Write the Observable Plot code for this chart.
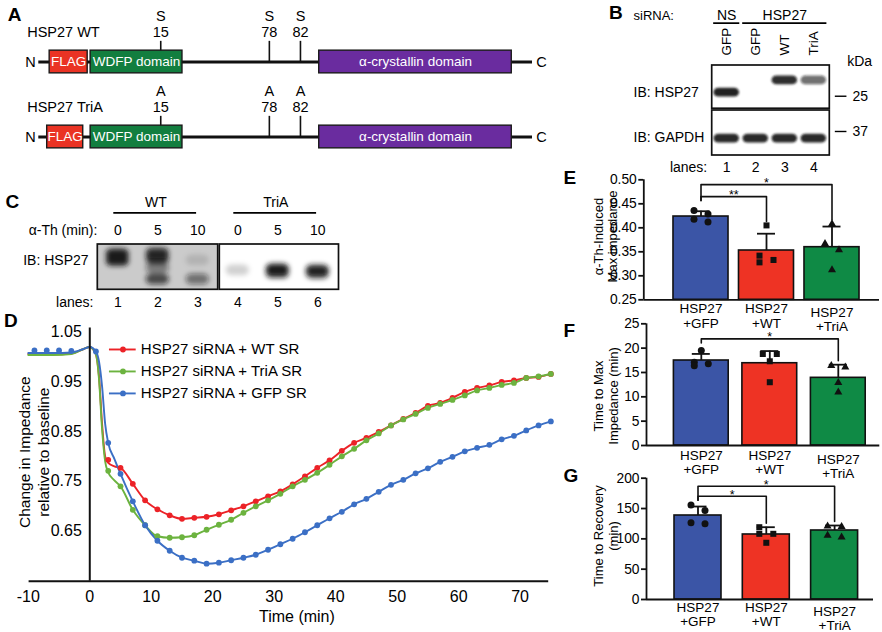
<!DOCTYPE html>
<html>
<head>
<meta charset="utf-8">
<script src="https://cdn.jsdelivr.net/npm/d3@7"></script>
<script src="https://cdn.jsdelivr.net/npm/@observablehq/plot@0.6"></script>
<style>
  html, body { margin: 0; padding: 0; background: #fff; }
  #fig { position: relative; width: 882px; height: 632px; overflow: hidden; background: #fff;
         font-family: "Liberation Sans", Arial, Helvetica, sans-serif; }
  #fig > div { position: absolute; }
  #fig svg { max-width: none !important; overflow: visible; display: block; }
</style>
</head>
<body>
<div id="fig"></div>
<script>
// ======================= DATA =======================
// Panel A – construct schematic (positions in schematic units along the protein, 0–100)
const constructs = ["HSP27 WT", "HSP27 TriA"];
const domainNames = ["FLAG", "WDFP domain", "α-crystallin domain"];
const domainStartWT = [2.2, 10.5, 56.8];
const domainEndWT = [9.9, 29.1, 95.8];
const domainStartTriA = [1.7, 10.5, 56.8];
const domainEndTriA = [9.0, 29.1, 95.8];
const siteNumbers = [15, 78, 82];
const siteSchematicPos = [24.7, 46.7, 53.0];
const residuesWT = ["S", "S", "S"];
const residuesTriA = ["A", "A", "A"];

// Panel B – knockdown / rescue blot
const bLanes = [1, 2, 3, 4];
const bLaneLabels = ["GFP", "GFP", "WT", "TriA"];
const bSiRNA = ["NS", "HSP27"];
const bSiRNAFirstLane = [1, 2];
const bSiRNALastLane = [1, 4];
const bHsp27Signal = [0.95, 0, 0.9, 0.6];
const bHsp27Migration = [0.62, 0.62, 0.34, 0.34];
const bGapdhSignal = [0.92, 0.92, 0.92, 0.92];
const bGapdhMigration = [0.64, 0.64, 0.64, 0.64];
const bMarkers = ["25", "37"];
const bMarkerMigration = [0.70, 0.478];

// Panel C – α-thrombin time course blot
const cLanes = [1, 2, 3, 4, 5, 6];
const cTimes = ["0", "5", "10", "0", "5", "10"];
const cConstructs = ["WT", "TriA"];
const cFirstLane = [1, 4];
const cLastLane = [3, 6];
const cBandLane = [1, 1, 2, 2, 2, 2, 3, 3, 4, 5, 5, 6, 6];
const cBandMigration = [0.22, 0.36, 0.2, 0.32, 0.52, 0.77, 0.35, 0.77, 0.57, 0.55, 0.63, 0.57, 0.64];
const cBandSignal = [0.95, 0.95, 0.85, 0.8, 0.45, 0.7, 0.12, 0.5, 0.18, 0.95, 0.8, 0.85, 0.75];

// Panel D – impedance time course
const dSeries = ["HSP27 siRNA + WT SR", "HSP27 siRNA + TriA SR", "HSP27 siRNA + GFP SR"];
const dColors = ["#ec2227", "#6cb33f", "#3b6fc5"];
const dTimeBaseline = [-9, -7, -5, -3, 1];
const dGfpBaseline = [1.012, 1.012, 1.012, 1.011, 1.010];
const dTimeAfter = [3,5,7,9,11,13,15,17,19,21,23,25,27,29,31,33,35,37,39,41,43,45,47,49,51,53,55,57,59,61,63,65,67,69,71,73,75];
const dWt = [0.793,0.777,0.745,0.712,0.694,0.682,0.675,0.677,0.679,0.684,0.692,0.700,0.710,0.720,0.730,0.744,0.760,0.777,0.792,0.811,0.827,0.837,0.849,0.862,0.875,0.887,0.901,0.907,0.917,0.929,0.937,0.942,0.949,0.952,0.957,0.959,0.965];
const dTriA = [0.771,0.740,0.693,0.662,0.640,0.637,0.638,0.642,0.653,0.663,0.673,0.687,0.700,0.712,0.725,0.740,0.753,0.767,0.783,0.800,0.815,0.832,0.846,0.862,0.874,0.885,0.897,0.905,0.913,0.922,0.932,0.937,0.943,0.947,0.957,0.960,0.965];
const dGfp = [0.827,0.765,0.710,0.662,0.631,0.611,0.597,0.591,0.585,0.587,0.592,0.597,0.603,0.613,0.624,0.635,0.648,0.662,0.676,0.689,0.704,0.715,0.729,0.743,0.753,0.766,0.776,0.789,0.799,0.810,0.817,0.823,0.834,0.841,0.852,0.862,0.870];
// smoothed fit curves, early part (baseline + drop)
const dFitTime = [-10, -6, -3, -1, 0, 1, 1.5, 2, 2.5, 3, 4];
const dWtFit = [1.005, 1.004, 1.006, 1.015, 1.019, 1.004, 0.960, 0.865, 0.800, 0.787, 0.780];
const dTriAFit = [1.003, 1.003, 1.005, 1.015, 1.019, 1.004, 0.955, 0.855, 0.790, 0.768, 0.752];
const dGfpFit = [1.007, 1.007, 1.008, 1.015, 1.019, 1.010, 0.990, 0.940, 0.865, 0.827, 0.795];
const dXTicks = [-10, 0, 10, 20, 30, 40, 50, 60, 70];
const dYTicks = [0.65, 0.75, 0.85, 0.95, 1.05];

// Panels E–G – bar charts
const barGroups = ["HSP27\n+GFP", "HSP27\n+WT", "HSP27\n+TriA"];
const barColors = ["#3b55a6", "#ee3324", "#0f8a45"];

const eMean = [0.4235, 0.3527, 0.3596];
const eSD = [0.011, 0.035, 0.043];
const eGFP = [0.436, 0.429, 0.412, 0.418];
const eWT = [0.405, 0.342, 0.328, 0.333];
const eTriA = [0.408, 0.367, 0.354, 0.3125];
const eSigLabel = ["*", "**"];
const eSigTo = [2, 1];
const eSigLevel = [0.490, 0.465];
const eTicks = [0.25, 0.30, 0.35, 0.40, 0.45, 0.50];

const fMean = [17.46, 16.9, 13.9];
const fSD = [1.35, 2.5, 2.7];
const fGFP = [19.5, 17.1, 16.4, 16.8];
const fWT = [18.8, 18.8, 17.3, 13.0];
const fTriA = [16.1, 16.4, 12.9, 10.95];
const fSigLabel = ["*"];
const fSigTo = [2];
const fSigLevel = [21.9];
const fTicks = [0, 5, 10, 15, 20, 25];

const gMean = [138.5, 107.2, 113.8];
const gSD = [14.8, 12.0, 8.2];
const gGFP = [156, 146.7, 124.8, 126.4];
const gWT = [119.2, 108.3, 108.3, 93.5];
const gTriA = [120.9, 120, 102.7, 105.5];
const gSigLabel = ["*", "*"];
const gSigTo = [2, 1];
const gSigLevel = [186.8, 170.3];
const gTicks = [0, 50, 100, 150, 200];

// ======================= HELPERS =======================
const FONT = "'Liberation Sans', Arial, Helvetica, sans-serif";
const fig = document.getElementById("fig");
const st = (fs) => ({fontFamily: FONT, fontSize: fs + "px", background: "transparent", overflow: "visible", maxWidth: "none"});
function place(svg, left, top, w, h) {
  const div = document.createElement("div");
  div.style.left = left + "px"; div.style.top = top + "px";
  div.style.width = w + "px"; div.style.height = h + "px";
  div.appendChild(svg); fig.appendChild(div);
}
function blurBands(svg, id, sd) {
  const ns = "http://www.w3.org/2000/svg";
  const defs = document.createElementNS(ns, "defs");
  const f = document.createElementNS(ns, "filter");
  f.setAttribute("id", id); f.setAttribute("x", "-50%"); f.setAttribute("y", "-100%");
  f.setAttribute("width", "200%"); f.setAttribute("height", "300%");
  const g = document.createElementNS(ns, "feGaussianBlur");
  g.setAttribute("stdDeviation", sd);
  f.appendChild(g); defs.appendChild(f);
  svg.insertBefore(defs, svg.firstChild);
  svg.querySelectorAll('g[aria-description="blot band"], g[fill="#141414"]').forEach(el => el.setAttribute("filter", `url(#${id})`));
}
const letterMark = (letter, dx, dy) => Plot.text([letter], {frameAnchor: "top-left", dx, dy, textAnchor: "start", lineAnchor: "middle", fontWeight: "bold", fontSize: 19});

// ======================= PANEL A =======================
{
  const domainsA = constructs.flatMap((c, r) => domainNames.map((name, k) => ({
    construct: c, name,
    start: (r ? domainStartTriA : domainStartWT)[k],
    end: (r ? domainEndTriA : domainEndWT)[k],
    color: ["#ea3324", "#127e3f", "#6a2c9f"][k]
  })));
  const sitesA = constructs.flatMap((c, r) => siteNumbers.map((n, k) => ({
    construct: c, num: n, pos: siteSchematicPos[k], residue: (r ? residuesTriA : residuesWT)[k]
  })));
  const pitch = 75.7, H = 180, top = 23.15;
  const svg = Plot.plot({
    width: 560, height: H, marginLeft: 38.3, marginRight: 28, marginTop: top, marginBottom: H - top - 2 * pitch,
    x: {domain: [0, 100], axis: null},
    y: {type: "band", domain: constructs, padding: 0, axis: null},
    color: {type: "identity"},
    style: st(14.5),
    marks: [
      Plot.ruleY(constructs, {y: d => d, x1: 0, x2: 100, strokeWidth: 2.8, stroke: "#111"}),
      Plot.tickX(sitesA, {x: "pos", y: "construct", insetTop: 16.85, insetBottom: pitch / 2, strokeWidth: 1.6, stroke: "#111"}),
      Plot.barX(domainsA, {x1: "start", x2: "end", y: "construct", fill: "color", stroke: "#1a1a1a", strokeWidth: 1.4, insetTop: 26.15, insetBottom: 26.15}),
      Plot.text(domainsA, {x: d => (d.start + d.end) / 2, y: "construct", text: "name", fill: "white", fontSize: 13.5}),
      Plot.text(sitesA, {x: "pos", y: "construct", text: "residue", dy: -45.5, fontSize: 14.5}),
      Plot.text(sitesA, {x: "pos", y: "construct", text: d => String(d.num), dy: -29.5, fontSize: 14.5}),
      Plot.text(constructs, {x: -2.35, y: d => d, text: d => d, textAnchor: "start", dy: -29.5, fontSize: 14.5}),
      Plot.text(constructs, {x: -1.7, y: d => d, text: () => "N", fontSize: 14.5}),
      Plot.text(constructs, {x: 101.8, y: d => d, text: () => "C", fontSize: 14.5}),
      letterMark("A", -31, -8.6)
    ]
  });
  place(svg, 0, 0, 560, H);
}

// ======================= PANEL B =======================
{
  const membranes = [{top: 0, bottom: 0.985}, {top: 1.025, bottom: 2.05}];
  const bands = [
    ...bLanes.map((l, i) => ({lane: l, y: bHsp27Migration[i], s: bHsp27Signal[i]})),
    ...bLanes.map((l, i) => ({lane: l, y: membranes[1].top + bGapdhMigration[i], s: bGapdhSignal[i]}))
  ].filter(d => d.s > 0);
  const markerY = (i) => i === 0 ? bMarkerMigration[0] : membranes[1].top + bMarkerMigration[1];
  const svg = Plot.plot({
    width: 322, height: 180, marginLeft: 151.7, marginRight: 52.7, marginTop: 65, marginBottom: 25,
    x: {domain: [0.5, 4.55], axis: null},
    y: {domain: [0, 2.05], reverse: true, axis: null},
    opacity: {type: "identity"},
    style: st(13.5),
    marks: [
      Plot.rect(membranes, {x1: 0.5, x2: 4.55, y1: "top", y2: "bottom", fill: "white"}),
      Plot.rect(bands, {x1: d => d.lane - 0.44, x2: d => d.lane + 0.44, y1: d => d.y - 0.1, y2: d => d.y + 0.1,
        fill: "#141414", fillOpacity: "s", rx: 5, ariaDescription: "blot band"}),
      Plot.rect(membranes, {x1: 0.5, x2: 4.55, y1: "top", y2: "bottom", fill: "none", stroke: "#111", strokeWidth: 1.7}),
      Plot.text(bLanes, {x: d => d, y: -0.23, text: (d, i) => bLaneLabels[i], rotate: -90, textAnchor: "start", fontSize: 13.5}),
      Plot.text(bSiRNA, {x: (d, i) => (bSiRNAFirstLane[i] + bSiRNALastLane[i]) / 2, y: -1.14, text: d => d, fontSize: 14}),
      Plot.ruleY(bSiRNA, {y: -0.965, x1: (d, i) => bSiRNAFirstLane[i] - 0.45, x2: (d, i) => bSiRNALastLane[i] + 0.45, strokeWidth: 1.7}),
      Plot.text(["siRNA:"], {x: -2.21, y: -1.14, textAnchor: "start", fontSize: 13}),
      Plot.text(["IB: HSP27", "IB: GAPDH"], {x: -2.21, y: (d, i) => i ? 1.63 : 0.61, text: d => d, textAnchor: "start", fontSize: 14}),
      Plot.text(["kDa"], {x: 5.15, y: -0.08, textAnchor: "start", fontSize: 14}),
      Plot.ruleY(bMarkers, {y: (d, i) => markerY(i), x1: 4.74, x2: 5.14, strokeWidth: 1.4}),
      Plot.text(bMarkers, {x: 5.33, y: (d, i) => markerY(i), text: d => d, textAnchor: "start", fontSize: 14}),
      Plot.text(["lanes:"], {x: 0.33, y: 2.33, textAnchor: "end", fontSize: 14}),
      Plot.text(bLanes, {x: d => d, y: 2.33, text: d => String(d), fontSize: 14}),
      Plot.text(["B"], {x: -3.05, y: -1.2, textAnchor: "start", fontWeight: "bold", fontSize: 19})
    ]
  });
  blurBands(svg, "blurB", 1.3);
  place(svg, 560, 0, 322, 180);
}

// ======================= PANEL C =======================
{
  const membranes = cConstructs.map((c, i) => ({
    x1: cFirstLane[i] - 0.5 + (i ? 0.05 : 0),
    x2: cLastLane[i] + 0.5 + (i ? 0.03 : 0.01),
    bg: i ? "#ffffff" : "#cbcbcb"
  }));
  const bands = cBandLane.map((l, i) => ({lane: l, y: cBandMigration[i], s: cBandSignal[i]}));
  const svg = Plot.plot({
    width: 360, height: 140, marginLeft: 97.3, marginRight: 20.7, marginTop: 74, marginBottom: 20.7,
    x: {domain: [0.5, 6.55], axis: null},
    y: {domain: [0, 1], reverse: true, axis: null},
    color: {type: "identity"},
    opacity: {type: "identity"},
    style: st(13.5),
    marks: [
      Plot.rect(membranes, {x1: "x1", x2: "x2", y1: 0, y2: 1, fill: "bg"}),
      Plot.rect(bands, {x1: d => d.lane - 0.29, x2: d => d.lane + 0.29, y1: d => d.y - 0.12, y2: d => d.y + 0.12,
        fill: "#141414", fillOpacity: "s", rx: 6, ariaDescription: "blot band"}),
      Plot.rect(membranes, {x1: "x1", x2: "x2", y1: 0, y2: 1, fill: "none", stroke: "#111", strokeWidth: 1.7}),
      Plot.text(cConstructs, {x: (d, i) => (cFirstLane[i] + cLastLane[i]) / 2 - 0.05, y: -0.93, text: d => d, fontSize: 14}),
      Plot.ruleY(cConstructs, {y: -0.70, x1: (d, i) => cFirstLane[i] - 0.1, x2: (d, i) => cLastLane[i] - 0.03, strokeWidth: 1.7}),
      Plot.text(["α-Th (min):"], {x: 0.49, y: -0.31, textAnchor: "end", fontSize: 14}),
      Plot.text(cLanes, {x: d => d, y: -0.31, text: (d, i) => cTimes[i], fontSize: 14}),
      Plot.text(["IB: HSP27"], {x: 0.27, y: 0.35, textAnchor: "end", fontSize: 14}),
      Plot.text(["lanes:"], {x: 0.39, y: 1.27, textAnchor: "end", fontSize: 14}),
      Plot.text(cLanes, {x: d => d, y: 1.27, text: d => String(d), fontSize: 14}),
      Plot.text(["C"], {x: -1.81, y: -0.93, textAnchor: "start", fontWeight: "bold", fontSize: 19})
    ]
  });
  blurBands(svg, "blurC", 2.4);
  place(svg, 0, 170, 360, 140);
}

// ======================= PANEL D =======================
{
  const dotValues = [dWt, dTriA, dGfp];
  const fitValues = [dWtFit, dTriAFit, dGfpFit];
  const dots = dSeries.map((s, k) => {
    const pts = dTimeAfter.map((t, i) => ({t, v: dotValues[k][i]}));
    return k === 2 ? dTimeBaseline.map((t, i) => ({t, v: dGfpBaseline[i]})).concat(pts) : pts;
  });
  const lines = dSeries.map((s, k) =>
    dFitTime.map((t, i) => ({t, v: fitValues[k][i]}))
      .concat(dTimeAfter.map((t, i) => ({t, v: dotValues[k][i]})).filter(d => d.t >= 5)));
  const legend = dSeries.map((s, k) => ({name: s, k, y: 1.014 - k * 0.044}));
  const marks = [];
  lines.forEach((l, k) => marks.push(Plot.line(l, {x: "t", y: "v", stroke: dColors[k], strokeWidth: 1.9, curve: "monotone-x"})));
  dots.forEach((p, k) => marks.push(Plot.dot(p, {x: "t", y: "v", fill: dColors[k], r: 2.9})));
  legend.forEach((d, k) => {
    marks.push(Plot.ruleY([d], {y: "y", x1: 3.2, x2: 7.55, stroke: dColors[k], strokeWidth: 1.9}));
    marks.push(Plot.dot([d], {x: 5.4, y: "y", fill: dColors[k], r: 2.9}));
  });
  marks.push(Plot.text(legend, {x: 8.3, y: "y", text: "name", textAnchor: "start", fontSize: 15}));
  marks.push(Plot.ruleY([0.55], {strokeWidth: 2, stroke: "#111"}));
  marks.push(Plot.ruleX([0], {y1: 0.55, y2: 1.057, strokeWidth: 2, stroke: "#111"}));
  marks.push(Plot.text(dYTicks, {x: 0, y: d => d, text: d => d.toFixed(2), textAnchor: "end", dx: -8, fontSize: 16}));
  marks.push(Plot.text(dXTicks, {x: d => d, y: 0.55, text: d => String(d), dy: 16, fontSize: 16}));
  marks.push(Plot.text(["Time (min)"], {frameAnchor: "bottom", textAnchor: "middle", lineAnchor: "middle", dx: 8, dy: 36, fontSize: 16}));
  marks.push(Plot.text(["Change in Impedance\nrelative to baseline"], {frameAnchor: "left", textAnchor: "middle", lineAnchor: "middle", rotate: -90, dx: 4, dy: -4.2, lineHeight: 1.25, fontSize: 15.5}));
  marks.push(letterMark("D", -25, -11));
  const svg = Plot.plot({
    width: 556, height: 337, marginLeft: 28.6, marginRight: 7.8, marginTop: 36, marginBottom: 51.3,
    x: {domain: [-9.87, 74.65], axis: null},
    y: {domain: [0.55, 1.05], axis: null},
    style: st(15),
    marks
  });
  place(svg, 0, 295, 556, 337);
}

// ======================= PANELS E–G =======================
function jitterOffsets(vals, ppu, pitch) {
  const order = d3.range(vals.length).sort((a, b) => vals[b] - vals[a]);
  const off = new Array(vals.length).fill(0);
  let cluster = [order[0]];
  const flush = () => { if (cluster.length > 1) cluster.forEach((j, k) => off[j] = (k % 2 ? 1 : -1) * 7 / pitch); };
  for (let k = 1; k < order.length; k++) {
    if ((vals[order[k - 1]] - vals[order[k]]) * ppu < 7) cluster.push(order[k]);
    else { flush(); cluster = [order[k]]; }
  }
  flush();
  return off;
}

function barPanel(o) {
  const {left, top, width, height, yDomain, yPx, axisX, center0, pitch, rightEnd, halfW,
         means, sds, reps, sigLabel, sigTo, sigLevel, ticks, fmt, letter, letterDx, letterDy,
         ylabel, ylabelDx, ylabelDy, ylabelLH, xlabDy, xlabLH} = o;
  const xmin = (axisX - center0) / pitch, xmax = (rightEnd - center0) / pitch;
  const ppu = (yPx[1] - yPx[0]) / (yDomain[1] - yDomain[0]);
  const idx = [0, 1, 2];
  const cap = 9 / pitch;
  const pts = reps.flatMap((vals, g) => {
    const off = jitterOffsets(vals, ppu, pitch);
    return vals.map((v, j) => ({g, x: g + off[j], v}));
  });
  const topOf = g => Math.max(means[g] + sds[g], ...reps[g]);
  const fromEnd = Math.min(...sigLevel) - 4 / ppu;
  const comps = sigLabel.map((lab, k) => ({k, label: lab, to: sigTo[k], level: sigLevel[k]}));
  const bracket = comps.flatMap(c => [
    {k: c.k, x: 0, y: fromEnd}, {k: c.k, x: 0, y: c.level},
    {k: c.k, x: c.to, y: c.level}, {k: c.k, x: c.to, y: topOf(c.to) + 4 / ppu}
  ]);
  const symbols = ["circle", "square", "triangle"];
  const radii = [3.5, 3.4, 3.0];
  const svg = Plot.plot({
    width, height, marginLeft: axisX, marginRight: width - rightEnd, marginTop: yPx[0], marginBottom: height - yPx[1],
    x: {domain: [xmin, xmax], axis: null},
    y: {domain: yDomain, axis: null},
    color: {type: "identity"},
    style: st(14),
    marks: [
      Plot.rect(idx, {x1: i => i - halfW, x2: i => i + halfW, y1: yDomain[0], y2: i => means[i], fill: i => barColors[i], stroke: "#111", strokeWidth: 1.6}),
      Plot.ruleX(idx, {x: i => i, y1: i => means[i], y2: i => means[i] + sds[i], strokeWidth: 1.8, stroke: "#111"}),
      Plot.ruleY(idx, {y: i => means[i] + sds[i], x1: i => i - cap, x2: i => i + cap, strokeWidth: 1.8, stroke: "#111"}),
      ...idx.map(g => Plot.dot(pts.filter(p => p.g === g), {x: "x", y: "v", symbol: symbols[g], r: radii[g], fill: "#111"})),
      Plot.line(bracket, {x: "x", y: "y", z: "k", stroke: "#111", strokeWidth: 1.6}),
      Plot.text(comps, {x: c => c.to / 2, y: "level", text: "label", dy: -1.5, fontSize: 12.5}),
      Plot.ruleX([xmin], {y1: yDomain[0], y2: yDomain[1], strokeWidth: 1.8, stroke: "#111"}),
      Plot.ruleY([yDomain[0]], {strokeWidth: 1.8, stroke: "#111"}),
      Plot.ruleY(ticks, {y: d => d, x1: xmin - 5 / pitch, x2: xmin, strokeWidth: 1.8, stroke: "#111"}),
      Plot.text(ticks, {x: xmin, y: d => d, text: fmt, textAnchor: "end", dx: -7, fontSize: 13.8}),
      Plot.text(idx, {x: i => i, y: yDomain[0], text: i => barGroups[i], lineAnchor: "top", dy: xlabDy, lineHeight: xlabLH, fontSize: 13.5, filter: i => i < 2}),
      Plot.text(idx, {x: i => i, y: yDomain[0], text: i => barGroups[i], lineAnchor: "top", dy: xlabDy + 3.5, lineHeight: xlabLH, fontSize: 13.5, filter: i => i === 2}),
      Plot.text([ylabel], {frameAnchor: "left", textAnchor: "middle", lineAnchor: "middle", rotate: -90, dx: ylabelDx, dy: ylabelDy, lineHeight: ylabelLH, fontSize: 13}),
      letterMark(letter, letterDx, letterDy)
    ]
  });
  place(svg, left, top, width, height);
}

barPanel({left: 560, top: 160, width: 322, height: 172, yDomain: [0.25, 0.50], yPx: [19.3, 139.3],
  axisX: 83.3, center0: 140.5, pitch: 65.5, rightEnd: 319, halfW: 0.42,
  means: eMean, sds: eSD, reps: [eGFP, eWT, eTriA], sigLabel: eSigLabel, sigTo: eSigTo, sigLevel: eSigLevel,
  ticks: eTicks, fmt: d => d.toFixed(2), letter: "E", letterDx: -80.3, letterDy: -1.8,
  ylabel: "α-Th-Induced\nMax impedance", ylabelDx: -38, ylabelDy: -3.3, ylabelLH: 1.02, xlabDy: 3, xlabLH: 1.08});

barPanel({left: 560, top: 315, width: 322, height: 170, yDomain: [0, 25], yPx: [8.3, 130],
  axisX: 86, center0: 140.8, pitch: 68.5, rightEnd: 319.3, halfW: 0.40,
  means: fMean, sds: fSD, reps: [fGFP, fWT, fTriA], sigLabel: fSigLabel, sigTo: fSigTo, sigLevel: fSigLevel,
  ticks: fTicks, fmt: d => String(d), letter: "F", letterDx: -83, letterDy: 6.7,
  ylabel: "Time to Max\nImpedance (min)", ylabelDx: -40.5, ylabelDy: 11.3, ylabelLH: 1.1, xlabDy: 5, xlabLH: 1.02});

barPanel({left: 560, top: 465, width: 322, height: 167, yDomain: [0, 200], yPx: [12.7, 134],
  axisX: 86, center0: 137.5, pitch: 68.3, rightEnd: 313, halfW: 0.344,
  means: gMean, sds: gSD, reps: [gGFP, gWT, gTriA], sigLabel: gSigLabel, sigTo: gSigTo, sigLevel: gSigLevel,
  ticks: gTicks, fmt: d => String(d), letter: "G", letterDx: -83, letterDy: -2.2,
  ylabel: "Time to Recovery\n(min)", ylabelDx: -40.5, ylabelDy: -2.9, ylabelLH: 1.1, xlabDy: 2.5, xlabLH: 1.06});
</script>
</body>
</html>
